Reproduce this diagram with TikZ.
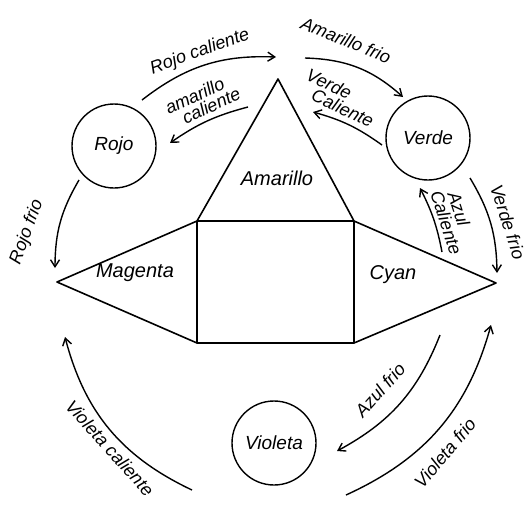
\documentclass[tikz,border=0pt]{standalone}
\usepackage{fontspec}
\setmainfont{Liberation Sans}
\usetikzlibrary{arrows.meta}
\begin{document}
\begin{tikzpicture}[x=1pt,y=-1pt,
  hand/.style={font=\fontsize{20}{20}\selectfont\itshape, inner sep=0pt},
  lbl/.style={font=\fontsize{18}{16}\selectfont\itshape, inner sep=0pt, align=center},
  outline/.style={line width=1.6pt, line join=round},
  colcircle/.style={circle, draw, line width=1.4pt, minimum size=84pt, inner sep=0pt, font=\fontsize{19}{19}\selectfont\itshape},
  arr/.style={line width=1.4pt, -{Straight Barb[length=7pt,width=9pt,line width=1.4pt]}}]
\useasboundingbox (0,0) rectangle (527,507);
% hexagon with triangle
\coordinate (A) at (278,79);
\coordinate (B) at (197,221);
\coordinate (C) at (354,221);
\coordinate (D) at (197,343);
\coordinate (E) at (354,343);
\coordinate (M) at (57,282);
\coordinate (Cy) at (496,283);
\draw[outline] (A) -- (B) -- (C) -- cycle;
\draw[outline] (B) -- (D) -- (E) -- (C);
\draw[outline] (B) -- (M) -- (D);
\draw[outline] (C) -- (Cy) -- (E);
\node[hand] (amarillo) at (277,178) {Amarillo};
\node[hand] (magenta) at (135,273) {Magenta};
\node[hand] (cyan) at (393,275) {Cyan};
% circles
\node[colcircle] (rojo) at (114,146) {Rojo};
\node[colcircle] (verde) at (428,138) {Verde};
\node[colcircle] (violeta) at (274,443) {Violeta};
% arrow end points
\coordinate (rc1) at (142,100); \coordinate (rc2) at (276,57);
\coordinate (ac1) at (248,107); \coordinate (ac2) at (170,143);
\coordinate (af1) at (305,58);  \coordinate (af2) at (403,97);
\coordinate (vc1) at (382,145); \coordinate (vc2) at (313,112);
\coordinate (vf1) at (470,178); \coordinate (vf2) at (497,273);
\coordinate (zc1) at (442,252); \coordinate (zc2) at (420,188);
\coordinate (rf1) at (79,180);  \coordinate (rf2) at (55,268);
\coordinate (ic1) at (192,490); \coordinate (ic2) at (65,337);
\coordinate (zf1) at (440,335); \coordinate (zf2) at (337,451);
\coordinate (if1) at (346,495); \coordinate (if2) at (491,325);
\draw[arr] (rc1) to[bend left=20] (rc2);
\draw[arr] (ac1) to[bend right=10] (ac2);
\draw[arr] (af1) to[bend left=20] (af2);
\draw[arr] (vc1) to[bend right=10] (vc2);
\draw[arr] (vf1) to[bend left=15] (vf2);
\draw[arr] (zc1) to[bend right=8] (zc2);
\draw[arr] (rf1) to[bend right=15] (rf2);
\draw[arr] (ic1) to[bend left=25] (ic2);
\draw[arr] (zf1) to[bend left=20] (zf2);
\draw[arr] (if1) to[bend right=25] (if2);
% labels
\node[lbl, rotate=20] (lrc) at (200,52) {Rojo caliente};
\node[lbl, rotate=25] (lac) at (198,103) {amarillo\\\hspace*{1.2em}caliente};
\node[lbl, rotate=-22] (laf) at (346,40) {Amarillo frio};
\node[lbl, rotate=-25] (lvc) at (338,97) {Verde\hspace*{1.5em}\\\hspace*{1em}Caliente};
\node[lbl, rotate=-72] (lvf) at (508,222) {Verde frio};
\node[lbl, rotate=-72] (lzc) at (454,220) {Azul\hspace*{1em}\\Caliente};
\node[lbl, rotate=70] (lrf) at (27,232) {Rojo frio};
\node[lbl, rotate=-48] (lic) at (110,448) {Violeta caliente};
\node[lbl, rotate=48] (lzf) at (380,390) {Azul frio};
\node[lbl, rotate=50] (lif) at (445,453) {Violeta frio};
\end{tikzpicture}
\end{document}
